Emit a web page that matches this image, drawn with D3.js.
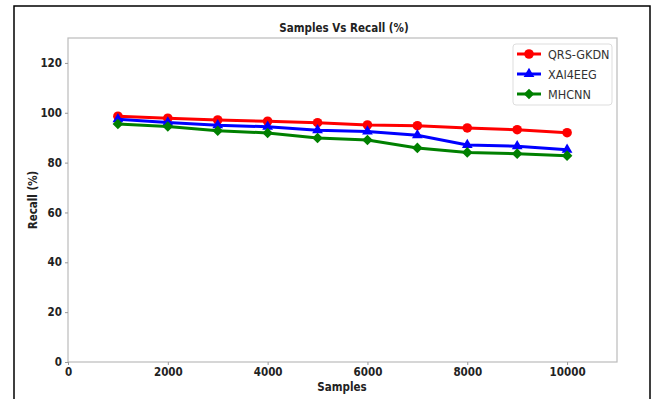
<!DOCTYPE html>
<html>
<head>
<meta charset="utf-8">
<script src="https://cdn.jsdelivr.net/npm/d3@7"></script>
<style>
  body { margin: 0; background: #fff; }
  text { font-family: "DejaVu Sans Condensed", "DejaVu Sans", sans-serif; font-stretch: condensed; }
</style>
</head>
<body>
<div id="chart"></div>
<script>
const samples = [1000, 2000, 3000, 4000, 5000, 6000, 7000, 8000, 9000, 10000];
const qrsGkdn = [98.6, 97.8, 97.1, 96.6, 96.0, 95.1, 94.8, 93.9, 93.2, 92.0];
const xai4eeg = [97.4, 96.1, 95.0, 94.4, 93.0, 92.5, 91.0, 87.1, 86.6, 85.2];
const mhcnn = [95.5, 94.5, 92.8, 91.9, 89.9, 89.1, 85.9, 84.1, 83.6, 82.8];
const xTicks = [0, 2000, 4000, 6000, 8000, 10000];
const yTicks = [0, 20, 40, 60, 80, 100, 120];

const series = [
  { name: 'QRS-GKDN', values: qrsGkdn, color: '#ff0000', marker: d3.symbolCircle, size: 72, rot: 0 },
  { name: 'XAI4EEG', values: xai4eeg, color: '#0000ff', marker: d3.symbolTriangle, size: 50, rot: 0 },
  { name: 'MHCNN', values: mhcnn, color: '#008000', marker: d3.symbolSquare, size: 56, rot: 45 },
];

const width = 662, height = 399;
const margin = { left: 68, top: 38, right: 45, bottom: 37 };

const svg = d3.select('#chart').append('svg').attr('width', width).attr('height', height);

// outer frame of the figure
svg.append('rect').attr('x', 14).attr('y', 6).attr('width', 636).attr('height', 420)
  .attr('fill', 'none').attr('stroke', '#000').attr('stroke-width', 1.5);

const x = d3.scaleLinear().domain([0, 11000]).range([margin.left, width - margin.right]);
const y = d3.scaleLinear().domain([0, 130]).range([height - margin.bottom, margin.top]);

// axes box
svg.append('rect').attr('x', margin.left).attr('y', margin.top)
  .attr('width', width - margin.left - margin.right).attr('height', height - margin.top - margin.bottom)
  .attr('fill', 'none').attr('stroke', '#bbb').attr('stroke-width', 1.2);

const xAxis = svg.append('g').attr('transform', 'translate(0,' + (height - margin.bottom) + ')')
  .call(d3.axisBottom(x).tickValues(xTicks).tickSize(3).tickPadding(3).tickFormat(d3.format('d')));
const yAxis = svg.append('g').attr('transform', 'translate(' + margin.left + ',0)')
  .call(d3.axisLeft(y).tickValues(yTicks).tickSize(3).tickPadding(3));

[xAxis, yAxis].forEach(function (g) {
  g.select('.domain').remove();
  g.selectAll('.tick line').attr('stroke', '#999');
  g.selectAll('.tick text').attr('fill', '#222').attr('font-size', 11.5).attr('font-weight', 'bold')
    .attr('font-family', null);
});

svg.append('text').attr('x', 344).attr('y', 32).attr('text-anchor', 'middle')
  .attr('font-size', 11.5).attr('font-weight', 'bold').attr('fill', '#222')
  .text('Samples Vs Recall (%)');
svg.append('text').attr('x', 342).attr('y', 391).attr('text-anchor', 'middle')
  .attr('font-size', 11.5).attr('font-weight', 'bold').attr('fill', '#222')
  .text('Samples');
svg.append('text').attr('transform', 'translate(37,' + y(65) + ') rotate(-90)').attr('text-anchor', 'middle')
  .attr('font-size', 11.5).attr('font-weight', 'bold').attr('fill', '#222')
  .text('Recall (%)');

const line = d3.line().x(function (d, i) { return x(samples[i]); }).y(function (d) { return y(d); });

series.forEach(function (s) {
  svg.append('path').datum(s.values).attr('d', line)
    .attr('fill', 'none').attr('stroke', s.color).attr('stroke-width', 3);
  svg.append('g').selectAll('path').data(s.values).enter().append('path')
    .attr('d', d3.symbol().type(s.marker).size(s.size))
    .attr('transform', function (d, i) { return 'translate(' + x(samples[i]) + ',' + y(d) + ') rotate(' + s.rot + ')'; })
    .attr('fill', s.color);
});

// legend
const legend = svg.append('g');
legend.append('rect').attr('x', 513).attr('y', 44).attr('width', 99).attr('height', 61).attr('rx', 3)
  .attr('fill', '#fff').attr('stroke', '#ddd');
series.forEach(function (s, i) {
  const ly = 54 + i * 20;
  legend.append('line').attr('x1', 517).attr('x2', 541).attr('y1', ly).attr('y2', ly)
    .attr('stroke', s.color).attr('stroke-width', 3);
  legend.append('path').attr('d', d3.symbol().type(s.marker).size(s.size))
    .attr('transform', 'translate(529,' + ly + ') rotate(' + s.rot + ')').attr('fill', s.color);
  legend.append('text').attr('x', 548).attr('y', ly + 4.5).attr('font-size', 12.5).attr('fill', '#333')
    .text(s.name);
});
</script>
</body>
</html>
